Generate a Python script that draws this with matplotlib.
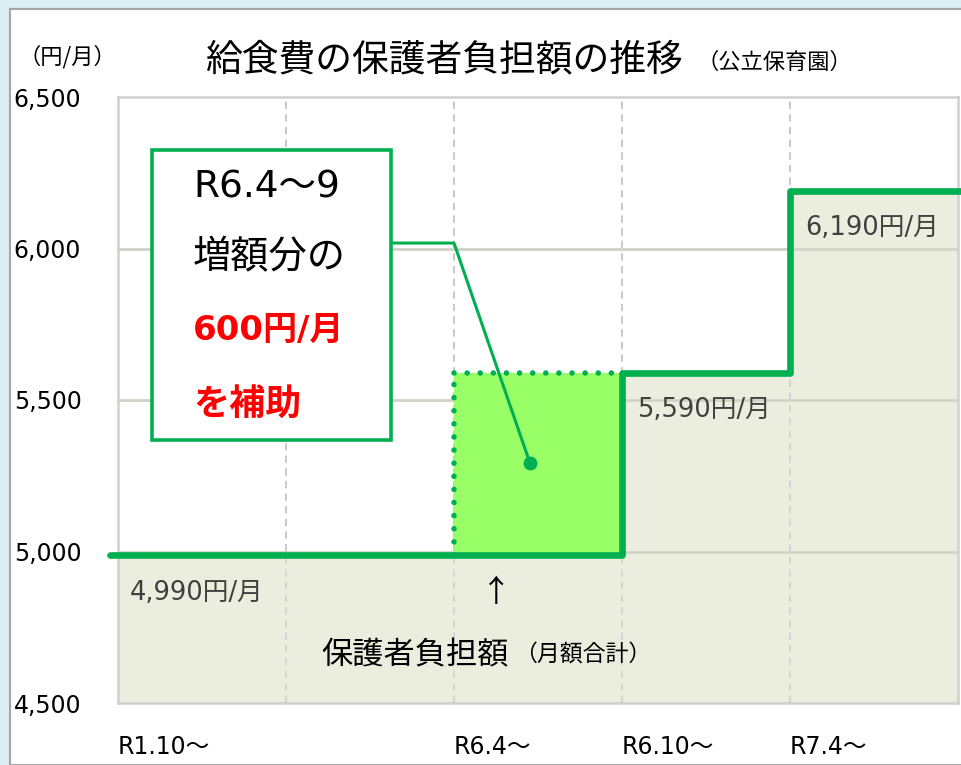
import matplotlib
matplotlib.use("Agg")
import matplotlib.pyplot as plt
from matplotlib.patches import Rectangle

plt.rcParams['font.family'] = ['DejaVu Sans', 'Noto Sans CJK JP']

# ---- data ----
periods = ['R1.10〜', '', 'R6.4〜', 'R6.10〜', 'R7.4〜']
step_x = [0, 3, 4, 5]            # period boundaries (category index)
fee = [4990, 5590, 6190]         # monthly parent burden (円/月)
fee_labels = ['4,990円/月', '5,590円/月', '6,190円/月']
subsidy_start, subsidy_end = 2, 3
subsidy_top = 5590
subsidy_base = 4990
yticks = [4500, 5000, 5500, 6000, 6500]
ytick_labels = ['4,500', '5,000', '5,500', '6,000', '6,500']

GREEN = '#00B050'
LIGHT = '#99FF66'
OLIVE = '#EBEEDE'
JP = 'Noto Sans CJK JP'

W, H = 961, 765
fig = plt.figure(figsize=(W / 100, H / 100), dpi=100)
fig.patch.set_facecolor('#DAEEF3')
panel = Rectangle((10 / W, 0), 1.0, 1 - 9 / H, transform=fig.transFigure,
                  facecolor='white', edgecolor='#A6A6A6', linewidth=1.5, zorder=-5)
fig.patches.append(panel)

ax = fig.add_axes([118 / W, 1 - 703 / H, (958 - 118) / W, (703 - 97) / H])
ax.set_zorder(2)
ax.set_facecolor('white')
ax.set_xlim(0, 5)
ax.set_ylim(4500, 6500)

# grid
for y in yticks[1:-1]:
    ax.axhline(y, color='#D9D9D9', lw=1.8, zorder=1)
for x in range(1, 5):
    ax.axvline(x, color='#C8C8C8', lw=1.3, ls=(0, (4, 3)), zorder=1)
for s in ax.spines.values():
    s.set_color('#D0D0D0')
    s.set_linewidth(1.8)

# olive fill under the step line
xs, ys = [], []
for i, v in enumerate(fee):
    xs += [step_x[i], step_x[i + 1]]
    ys += [v, v]
ax.fill_between(xs, 4500, ys, color=OLIVE, zorder=1.5, linewidth=0)
for y in yticks[1:-1]:
    ax.axhline(y, color='#D0D3C3', lw=1.8, zorder=1.6)
for x in range(1, 5):
    ax.axvline(x, color='#C8C8C8', lw=1.3, ls=(0, (4, 3)), zorder=1.6, alpha=0.7)

# subsidy rectangle
ax.fill_between([subsidy_start, subsidy_end], subsidy_base, subsidy_top,
                color=LIGHT, zorder=2, linewidth=0)
ax.plot([subsidy_start, subsidy_end], [subsidy_top, subsidy_top], color=GREEN,
        lw=4.0, ls=(0, (0.01, 2.35)), dash_capstyle='round', zorder=3)
ax.plot([subsidy_start, subsidy_start], [subsidy_base, subsidy_top], color=GREEN,
        lw=4.0, ls=(0, (0.01, 2.35)), dash_capstyle='round', zorder=3)

# step line
lx = [-0.045]
ly = [fee[0]]
for i, v in enumerate(fee):
    lx += [step_x[i + 1]]
    ly += [v]
    if i + 1 < len(fee):
        lx += [step_x[i + 1]]
        ly += [fee[i + 1]]
lx[-1] = 5.02
ax.plot(lx, ly, color=GREEN, lw=4.8, solid_capstyle='round',
        solid_joinstyle='round', zorder=4, clip_on=False)

# value labels
lab_pos = [(0.071, 4863), (3.089, 5467), (4.089, 6068)]
for (x, y), t in zip(lab_pos, fee_labels):
    ax.text(x, y, t, fontsize=18.5, color='#404040', va='center', ha='left', zorder=5)

ax.text(2.25, 4860, '↑', fontsize=22, color='black', ha='center', va='center',
        zorder=5, family=JP)
ax.text(1.21, 4658, '保護者負担額', fontsize=22.5, color='black', ha='left',
        va='center', zorder=5, family=JP)
ax.text(2.36, 4658, '（月額合計）', fontsize=16.5, color='black', ha='left',
        va='center', zorder=5, family=JP)

# callout
box = Rectangle((0.202, 5368), 1.625 - 0.202, 6325 - 5368, facecolor='white',
                edgecolor=GREEN, lw=2.6, zorder=6)
ax.add_patch(box)
ax.plot([1.625, 2.0, 2.452], [6018, 6018, 5292], color=GREEN, lw=2.2, zorder=5)
ax.plot([2.452], [5292], 'o', color=GREEN, ms=9, zorder=5)
ax.text(0.446, 6200, 'R6.4〜9', fontsize=27, color='black', ha='left', va='center',
        zorder=7)
ax.text(0.446, 5969, '増額分の', fontsize=27.5, color='black', ha='left', va='center',
        zorder=7, family=JP)
ax.text(0.446, 5731, '600円/月', fontsize=24.5, color='#FF0000', ha='left',
        va='center', fontweight='bold', zorder=7)
ax.text(0.446, 5484, 'を補助', fontsize=26, color='#FF0000', ha='left', va='center',
        fontweight='bold', zorder=7, family=JP)

# axes ticks
ax.set_yticks(yticks)
ax.set_yticklabels(ytick_labels, fontsize=17, ha='left')
ax.tick_params(axis='y', length=0, pad=75)
ax.set_xticks(range(len(periods)))
ax.set_xticklabels(periods, fontsize=17, ha='left')
ax.tick_params(axis='x', length=0, pad=23)

# title and unit
fig.text(205 / W, 1 - 60 / H, '給食費の保護者負担額の推移', fontsize=26.5,
         family=JP, ha='left', va='center')
fig.text(697 / W, 1 - 62 / H, '（公立保育園）', fontsize=16,
         family=JP, ha='left', va='center')
fig.text(19 / W, 1 - 57 / H, '（円/月）', fontsize=16, family=JP,
         ha='left', va='center')

fig.savefig('out.png', dpi=100, facecolor=fig.get_facecolor())
